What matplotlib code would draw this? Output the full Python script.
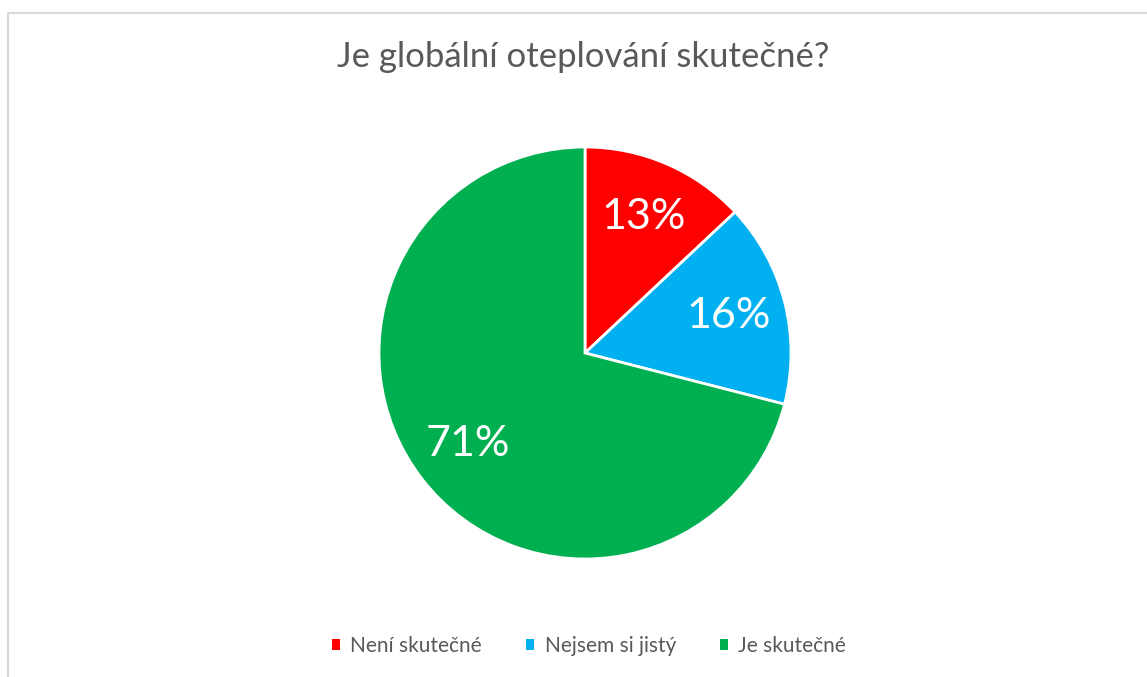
import matplotlib
matplotlib.use('Agg')
import matplotlib.pyplot as plt
from matplotlib.patches import Rectangle

# answers to the survey question
categories = ['Není skutečné', 'Nejsem si jistý', 'Je skutečné']
shares = [13, 16, 71]
colors = ['#FF0000', '#00B0F0', '#00B050']
title = 'Je globální oteplování skutečné?'

plt.rcParams['font.family'] = ['Lato', 'DejaVu Sans']
grey = '#595959'

W, H = 1147, 677
fig = plt.figure(figsize=(W / 100, H / 100), dpi=100)

# light chart-area border (only left and top edges are visible in the crop)
fig.patches.append(Rectangle((8 / W, -0.1), 1.2, 1 - 13 / H + 0.1, transform=fig.transFigure,
                             facecolor='none', edgecolor='#D9D9D9', linewidth=1.5))

# pie placed by pixel: centre (585, 353), radius 206
cx, cy, r = 585, 353, 206
ax = fig.add_axes([(cx - r) / W, (H - cy - r) / H, 2 * r / W, 2 * r / H])
wedges, texts, autotexts = ax.pie(
    shares, colors=colors, startangle=90, counterclock=False,
    autopct='%d%%', pctdistance=0.72, radius=1,
    wedgeprops=dict(edgecolor='white', linewidth=2),
    textprops=dict(color='white', fontsize=31))
ax.set_xlim(-1, 1)
ax.set_ylim(-1, 1)
ax.set_aspect('equal')
ax.axis('off')

fig.text(583 / W, 1 - 67 / H, title, ha='center', va='baseline', fontsize=25, color=grey)

leg = fig.legend(wedges, categories, loc='center', bbox_to_anchor=(589 / W, 1 - 646 / H),
                 ncol=3, frameon=False, fontsize=15, handlelength=0.4, handleheight=0.4,
                 handletextpad=0.5, columnspacing=2.1, labelcolor=grey)
for h in leg.legend_handles:
    h.set_edgecolor('none')

fig.savefig('out.png', dpi=100)
